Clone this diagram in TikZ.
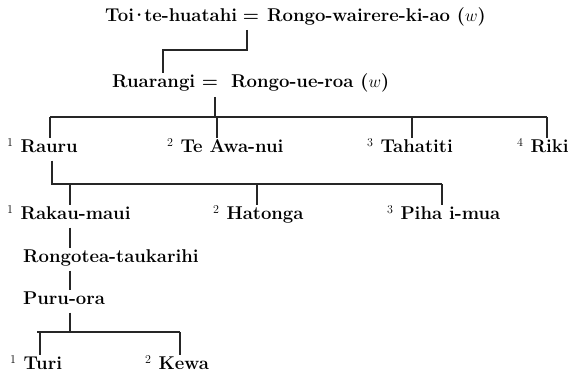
\documentclass[tikz,border=0pt]{standalone}
\usepackage{fontspec}
\begin{document}
\begin{tikzpicture}[x=1pt,y=-1pt,
  person/.style={anchor=base west,font=\bfseries\fontsize{18.5}{22}\selectfont,inner xsep=0pt,inner ysep=2pt,text height=13pt,text depth=5.5pt},
  link/.style={line width=1.1pt,black!85}]
\useasboundingbox (0,0) rectangle (568,374);
% first couple
\node[person] (toi) at (105,22) {Toi\kern-3pt·\kern-3pt te-huatahi};
\node[person,anchor=base] (eqA) at (251,22) {=};
\node[person] (wairere) at (267,22) {Rongo-wairere-ki-ao ($w$)};
% second couple
\node[person] (ruarangi) at (112,88) {Ruarangi};
\node[person,anchor=base] (eqB) at (210,88) {=};
\node[person] (uero) at (231,88) {Rongo-ue-roa ($w$)};
\coordinate (stemA) at (247,30);
\coordinate (kinkA) at (163,50);
\draw[link] (stemA) |- (kinkA) -- (kinkA |- ruarangi.north);
% their children
\node[person] (rauru) at (7,153) {$^1$ Rauru};
\node[person] (teawa) at (167,153) {$^2$ Te Awa-nui};
\node[person] (tahatiti) at (367,153) {$^3$ Tahatiti};
\node[person] (riki) at (517,153) {$^4$ Riki};
\coordinate (stemB) at (215,97);
\coordinate (dropB1) at (50,117);
\coordinate (dropB2) at (217,117);
\coordinate (dropB3) at (412,117);
\coordinate (dropB4) at (547,117);
\draw[link] (stemB) -- (stemB |- dropB1);
\draw[link] (dropB1) -- (dropB4);
\foreach \d/\n in {dropB1/rauru,dropB2/teawa,dropB3/tahatiti,dropB4/riki}
  \draw[link] (\d) -- (\d |- \n.north);
% children of Rauru
\node[person] (rakau) at (7,220) {$^1$ Rakau-maui};
\node[person] (hatonga) at (213,220) {$^2$ Hatonga};
\node[person] (piha) at (387,220) {$^3$ Piha i-mua};
\coordinate (stemC) at (52,184);
\coordinate (dropC1) at (70,184);
\coordinate (dropC2) at (257,184);
\coordinate (dropC3) at (442,184);
\draw[link] (stemC |- rauru.south) -- (stemC) -- (dropC3);
\foreach \d/\n in {dropC1/rakau,dropC2/hatonga,dropC3/piha}
  \draw[link] (\d) -- (\d |- \n.north);
% line down
\node[person] (rongotea) at (23,263) {Rongotea-taukarihi};
\node[person] (puruora) at (23,305) {Puru-ora};
\coordinate (stemD) at (70,235);
\coordinate (stemE) at (70,280);
\draw[link] (stemD |- rakau.south) -- (stemD |- rongotea.north);
\draw[link] (stemE |- rongotea.south) -- (stemE |- puruora.north);
% children of Puru-ora
\node[person] (turi) at (10,370) {$^1$ Turi};
\node[person] (kewa) at (145,370) {$^2$ Kewa};
\coordinate (dropF1) at (40,332);
\coordinate (dropF2) at (180,332);
\draw[link] (stemE |- puruora.south) -- (stemE |- dropF1);
\draw[link] ([xshift=-3pt]dropF1) -- (dropF2);
\foreach \d/\n in {dropF1/turi,dropF2/kewa}
  \draw[link] (\d) -- (\d |- \n.north);
\end{tikzpicture}
\end{document}
